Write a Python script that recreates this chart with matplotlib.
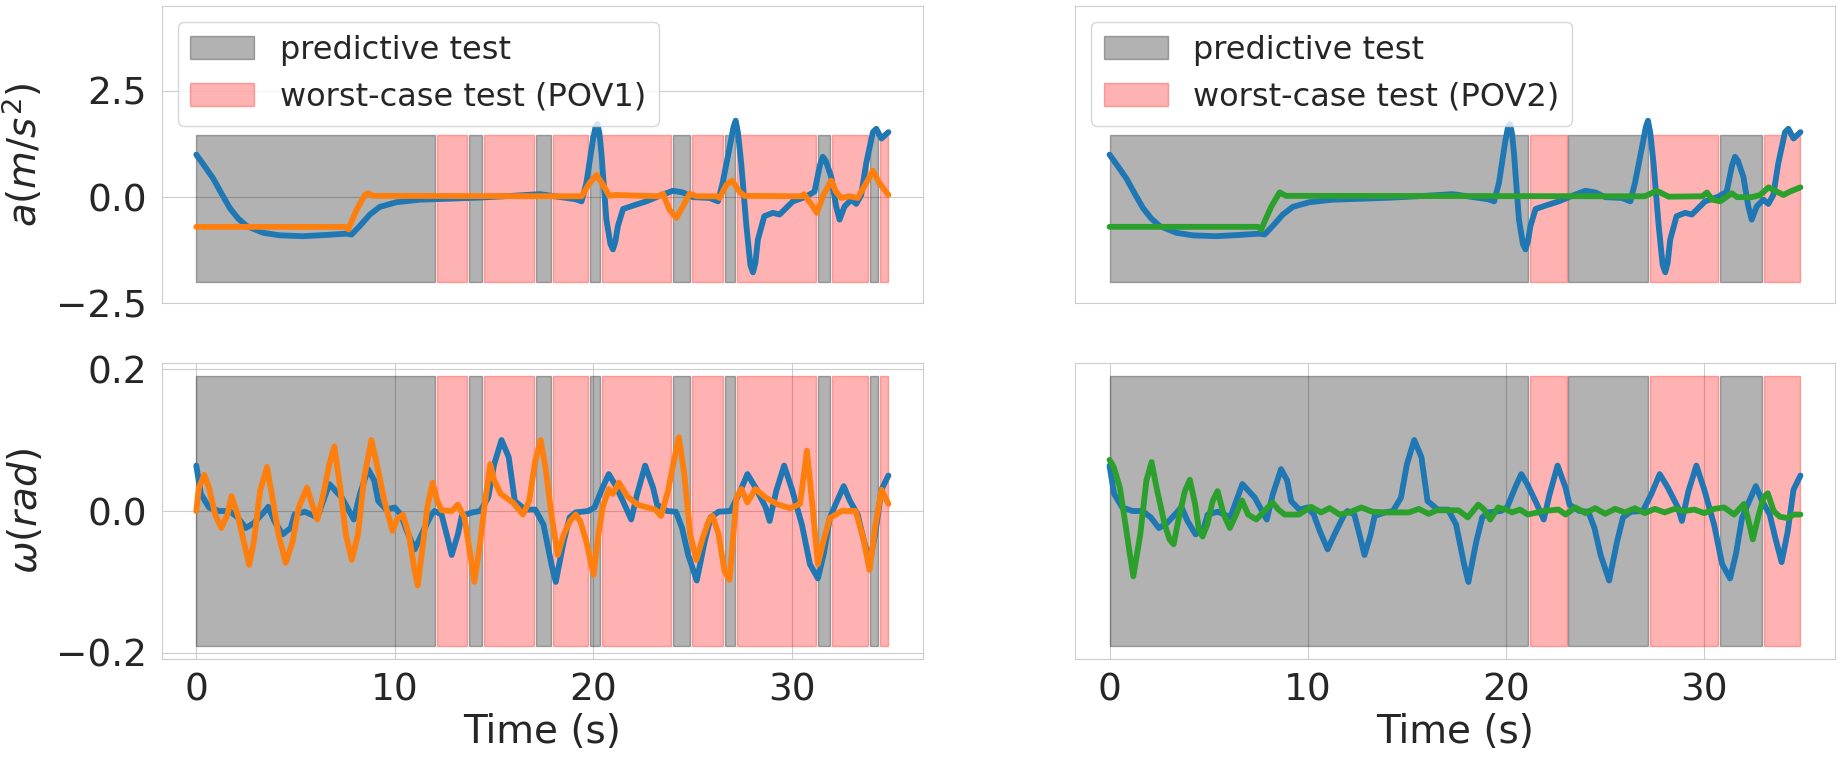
import matplotlib
matplotlib.use('Agg')
import matplotlib.pyplot as plt
import seaborn as sns
from matplotlib.patches import Patch

# ---------------- data ----------------
# acceleration, original trajectory (blue)
t_a_orig = [0, 0.4, 0.85, 1.25, 1.69, 2.1, 2.53, 3.37, 4.2, 5.38, 6.56, 7.56, 7.82, 8.23, 8.74, 9.24,
            10.08, 11.25, 12.6, 14.3, 15.9, 17.3, 18.5, 19.1, 19.4, 19.64, 19.97, 20.1, 20.2, 20.3,
            20.4, 20.65, 20.85, 20.98, 21.1, 21.23, 21.49, 21.99, 22.66, 23.33, 24.0, 24.5, 25.0,
            25.85, 26.27, 26.5, 26.86, 27.05, 27.16, 27.28, 27.44, 27.7, 27.9, 28.03, 28.15, 28.28,
            28.6, 29.03, 29.37, 30.04, 30.7, 31.13, 31.4, 31.55, 31.7, 31.97, 32.22, 32.39, 32.64,
            32.98, 33.23, 33.48, 33.73, 34.07, 34.24, 34.5, 34.85]
a_orig = [1.0, 0.74, 0.44, 0.1, -0.26, -0.5, -0.68, -0.84, -0.90, -0.92, -0.89, -0.86, -0.88, -0.68,
          -0.41, -0.23, -0.12, -0.06, -0.04, -0.01, 0.03, 0.07, -0.01, -0.05, -0.1, 0.33, 1.34,
          1.65, 1.72, 1.5, 1.03, -0.53, -1.1, -1.23, -1.05, -0.68, -0.28, -0.2, -0.1, 0.03, 0.15,
          0.11, 0.0, -0.02, -0.1, 0.33, 1.18, 1.65, 1.8, 1.5, 0.79, -0.68, -1.6, -1.77, -1.55,
          -1.0, -0.45, -0.37, -0.41, -0.1, 0.01, 0.13, 0.75, 0.95, 0.85, 0.48, -0.22, -0.53, -0.22,
          -0.06, -0.16, 0.05, 0.79, 1.53, 1.61, 1.38, 1.53]

# acceleration, POV1 (orange)
t_a_pov1 = [0, 7.48, 7.65, 8.07, 8.49, 8.65, 8.9, 19.4, 19.8, 20.15, 20.48, 20.8, 21.1, 23.3, 23.5,
            23.83, 24.17, 24.5, 24.84, 25.2, 26.2, 26.35, 26.69, 26.99, 27.36, 27.6, 30.5, 30.6,
            31.05, 31.25, 31.55, 31.97, 32.22, 32.47, 32.9, 33.3, 33.73, 34.07, 34.4, 34.85]
a_pov1 = [-0.70, -0.70, -0.76, -0.30, 0.05, 0.09, 0.03, 0.02, 0.33, 0.52, 0.29, 0.03, 0.05, 0.02,
          0.08, -0.3, -0.49, -0.22, 0.08, 0.02, 0.02, -0.02, 0.29, 0.39, 0.12, 0.03, 0.02, 0.07,
          -0.22, -0.37, 0.02, 0.39, 0.12, -0.02, 0.02, -0.02, 0.33, 0.62, 0.33, 0.05]

# acceleration, POV2 (green)
t_a_pov2 = [0, 7.48, 7.65, 8.16, 8.58, 8.9, 26.7, 27.0, 27.6, 28.2, 29.9, 30.13, 30.4, 30.8, 31.2,
            31.39, 31.65, 32.4, 32.82, 33.24, 33.57, 33.99, 34.32, 34.85]
a_pov2 = [-0.70, -0.70, -0.76, -0.22, 0.11, 0.03, 0.02, 0.02, 0.15, 0.01, 0.02, 0.11, -0.06, -0.10,
          0.03, 0.09, 0.0, 0.0, 0.05, 0.23, 0.15, 0.05, 0.13, 0.23]

# steering, original trajectory (blue)
t_w_orig = [0, 0.23, 0.64, 1.16, 1.67, 2.08, 2.49, 2.9, 3.52, 3.62, 3.93, 4.34, 4.75, 4.95, 5.47,
            6.09, 6.7, 7.32, 7.93, 8.24, 8.65, 8.96, 9.16, 9.57, 9.99, 10.3, 10.6, 11.0, 11.43,
            11.84, 12.0, 12.35, 12.65, 12.86, 13.17, 13.37, 13.89, 14.3, 14.7, 15.0, 15.37, 15.73,
            16.04, 16.56, 17.07, 17.48, 17.89, 18.1, 18.5, 18.8, 19.1, 19.74, 20.05, 20.46, 20.77,
            21.07, 21.48, 21.9, 22.2, 22.6, 23.0, 23.2, 23.7, 24.15, 24.46, 24.77, 25.2, 25.6, 25.9,
            26.3, 26.9, 27.33, 27.75, 28.16, 28.67, 28.87, 29.2, 29.6, 30.0, 30.5, 30.9, 31.3, 31.6,
            31.9, 32.2, 32.6, 32.9, 33.3, 33.6, 33.9, 34.2, 34.5, 34.85]
w_orig = [0.064, 0.024, 0.005, 0.0, 0.0, -0.009, -0.024, -0.017, 0.002, 0.006, -0.014, -0.033,
          -0.024, -0.005, -0.001, -0.009, 0.038, 0.019, -0.012, 0.024, 0.059, 0.043, 0.014, 0.002,
          0.005, -0.005, -0.028, -0.054, -0.028, -0.005, 0.0, -0.005, -0.038, -0.062, -0.033,
          -0.007, -0.002, 0.0, 0.019, 0.066, 0.1, 0.076, 0.014, 0.002, 0.002, -0.019, -0.076, -0.1,
          -0.043, -0.009, -0.002, 0.0, 0.005, 0.033, 0.052, 0.038, 0.014, -0.012, 0.024, 0.064,
          0.033, 0.009, 0.0, -0.001, -0.024, -0.062, -0.098, -0.043, -0.009, -0.001, 0.0, 0.024,
          0.052, 0.033, 0.005, -0.014, 0.028, 0.064, 0.03, -0.02, -0.075, -0.095, -0.06, -0.01,
          0.01, 0.035, 0.015, -0.005, -0.04, -0.072, -0.03, 0.03, 0.05]

# steering, POV1 (orange)
t_w_pov1 = [0, 0.13, 0.4, 0.64, 0.95, 1.26, 1.57, 1.77, 2.08, 2.39, 2.66, 2.9, 3.21, 3.56, 3.83,
            4.14, 4.5, 4.85, 5.16, 5.57, 5.78, 6.09, 6.4, 6.7, 6.95, 7.22, 7.53, 7.83, 8.14, 8.45,
            8.82, 9.16, 9.47, 9.88, 10.1, 10.4, 10.7, 11.0, 11.15, 11.43, 11.63, 11.9, 12.14, 12.35,
            12.86, 13.17, 13.5, 13.8, 14.0, 14.3, 14.5, 14.8, 15.0, 15.33, 15.94, 16.45, 16.76,
            17.07, 17.34, 17.58, 17.9, 18.2, 18.5, 18.82, 19.1, 19.33, 19.64, 20.0, 20.25, 20.46,
            20.77, 20.97, 21.28, 21.7, 22.2, 23.1, 23.4, 23.75, 24.05, 24.3, 24.57, 24.87, 25.18,
            25.5, 25.8, 26.0, 26.3, 26.6, 26.85, 27.2, 27.45, 27.75, 28.15, 28.67, 29.3, 29.9, 30.4,
            30.75, 31.05, 31.3, 31.6, 31.9, 32.5, 33.2, 33.6, 33.9, 34.2, 34.5, 34.85]
w_pov1 = [0, 0.033, 0.051, 0.033, -0.005, -0.024, -0.005, 0.021, -0.005, -0.043, -0.076, -0.043,
          0.028, 0.062, 0.019, -0.033, -0.073, -0.043, 0.005, 0.033, 0.014, -0.012, 0.024, 0.066,
          0.091, 0.038, -0.033, -0.069, -0.033, 0.047, 0.1, 0.057, 0.014, -0.028, -0.012, -0.005,
          -0.033, -0.085, -0.105, -0.043, 0.005, 0.04, 0.014, 0.001, 0.0, 0.009, -0.009, -0.062,
          -0.1, -0.043, 0.005, 0.066, 0.043, 0.024, 0.012, -0.005, 0.014, 0.071, 0.1, 0.062,
          -0.009, -0.062, -0.033, -0.014, -0.005, -0.014, -0.043, -0.09, -0.033, 0.005, 0.031,
          0.024, 0.04, 0.021, 0.009, 0.002, -0.007, 0.028, 0.071, 0.104, 0.052, -0.033, -0.069,
          -0.038, -0.014, -0.007, -0.033, -0.085, -0.097, 0.019, 0.031, 0.012, 0.031, 0.019, 0.009,
          0.004, 0.01, 0.085, 0.0, -0.075, -0.04, -0.01, 0.0, 0.0, -0.04, -0.083, -0.02, 0.03, 0.01]

# steering, POV2 (green)
t_w_pov2 = [0, 0.21, 0.52, 0.83, 1.03, 1.2, 1.55, 1.86, 2.12, 2.37, 2.78, 3.03, 3.23, 3.5, 3.8,
            4.05, 4.32, 4.52, 4.69, 4.93, 5.2, 5.45, 5.76, 6.07, 6.38, 6.68, 6.99, 7.4, 7.81, 8.22,
            8.52, 8.83, 9.55, 10.16, 10.67, 11.1, 11.6, 12.1, 12.7, 13.25, 13.9, 15.1, 15.6, 16.1,
            16.5, 17.1, 17.6, 18.07, 18.6, 18.9, 19.2, 19.6, 20.0, 20.3, 20.7, 21.1, 21.9, 22.65,
            23.0, 23.5, 24.0, 24.5, 25.0, 25.5, 26.0, 26.5, 27.0, 27.5, 28.0, 28.5, 29.0, 29.5,
            30.0, 30.5, 31.0, 31.5, 32.0, 32.2, 32.45, 32.7, 33.0, 33.2, 33.5, 33.8, 34.2, 34.5,
            34.85]
w_pov2 = [0.072, 0.062, 0.033, -0.024, -0.062, -0.092, -0.033, 0.043, 0.069, 0.033, -0.019, -0.04,
          -0.047, -0.009, 0.028, 0.044, 0.009, -0.028, -0.036, -0.019, 0.014, 0.028, -0.005,
          -0.024, -0.005, 0.015, -0.005, -0.012, 0.0, 0.012, 0.002, -0.005, -0.005, 0.006, -0.002,
          0.004, -0.005, -0.002, 0.005, -0.001, -0.002, -0.002, 0.003, -0.004, 0.001, 0.001, 0.001,
          -0.009, 0.009, 0.002, -0.012, 0.005, 0.002, -0.002, 0.002, -0.005, 0.0, 0.002, -0.005,
          0.005, -0.003, 0.004, -0.004, 0.003, -0.002, 0.004, -0.003, 0.003, -0.002, 0.003, 0.0,
          0.002, -0.003, 0.003, 0.005, -0.005, 0.01, -0.01, -0.04, -0.01, 0.02, 0.025, 0.0, -0.008,
          -0.01, -0.005, -0.005]

# test segments (start, end) in seconds
pov1_predictive = [(0, 12.0), (13.75, 14.4), (17.1, 17.85), (19.8, 20.35), (24.0, 24.85),
                   (26.6, 27.15), (31.3, 31.9), (33.9, 34.35)]
pov1_worst = [(12.1, 13.65), (14.5, 17.0), (17.95, 19.7), (20.45, 23.9), (24.95, 26.5),
              (27.25, 31.2), (32.0, 33.8), (34.45, 34.85)]
pov2_predictive = [(0, 21.1), (23.15, 27.15), (30.8, 32.9)]
pov2_worst = [(21.2, 23.05), (27.25, 30.7), (33.0, 34.85)]

band_a = (-2.0, 1.47)
band_w = (-0.19, 0.19)

legend_labels_pov1 = ['predictive test', 'worst-case test (POV1)']
legend_labels_pov2 = ['predictive test', 'worst-case test (POV2)']
a_ticks = [-2.5, 0.0, 2.5]
w_ticks = [-0.2, 0.0, 0.2]
x_ticks = [0, 10, 20, 30]

# ---------------- style ----------------
sns.set_style('whitegrid')
plt.rcParams['font.family'] = ['DejaVu Sans']
plt.rcParams['mathtext.fontset'] = 'dejavusans'

TICK_FS = 27
LABEL_FS = 28
LEG_FS = 23
LW = 4.2

fig = plt.figure(figsize=(18.42, 7.57), dpi=100)
W, H = 1842.0, 757.0


def rect(x0, x1, ytop, ybot):
    return [x0 / W, 1 - ybot / H, (x1 - x0) / W, (ybot - ytop) / H]


ax_tl = fig.add_axes(rect(161.7, 923, 6, 303.3))
ax_tr = fig.add_axes(rect(1075, 1835, 6, 303.3))
ax_bl = fig.add_axes(rect(161.7, 923, 362.7, 659.3))
ax_br = fig.add_axes(rect(1075, 1835, 362.7, 659.3))


def spans(ax, pred, worst, band):
    lo, hi = band
    for s, e in pred:
        ax.fill_between([s, e], [lo, lo], [hi, hi], color='k', alpha=0.3, linewidth=1)
    for s, e in worst:
        ax.fill_between([s, e], [lo, lo], [hi, hi], color='r', alpha=0.3, linewidth=1)


# top-left
spans(ax_tl, pov1_predictive, pov1_worst, band_a)
ax_tl.plot(t_a_orig, a_orig, color='C0', lw=LW)
ax_tl.plot(t_a_pov1, a_pov1, color='C1', lw=LW)
# top-right
spans(ax_tr, pov2_predictive, pov2_worst, band_a)
ax_tr.plot(t_a_orig, a_orig, color='C0', lw=LW)
ax_tr.plot(t_a_pov2, a_pov2, color='C2', lw=LW)
# bottom-left
spans(ax_bl, pov1_predictive, pov1_worst, band_w)
ax_bl.plot(t_w_orig, w_orig, color='C0', lw=LW)
ax_bl.plot(t_w_pov1, w_pov1, color='C1', lw=LW)
# bottom-right
spans(ax_br, pov2_predictive, pov2_worst, band_w)
ax_br.plot(t_w_orig, w_orig, color='C0', lw=LW)
ax_br.plot(t_w_pov2, w_pov2, color='C2', lw=LW)

for ax in (ax_tl, ax_tr):
    ax.set_ylim(-2.5, 4.5)
    ax.set_xticks([])
for ax in (ax_bl, ax_br):
    ax.set_xticks(x_ticks)
    ax.set_xlabel('Time (s)', fontsize=LABEL_FS, labelpad=3)

ax_tl.set_yticks(a_ticks)
ax_bl.set_yticks(w_ticks)
ax_tr.set_yticks([])
ax_br.set_yticks([])
ax_tr.set_ylim(ax_tl.get_ylim())
ax_br.set_ylim(ax_bl.get_ylim())

ax_tl.set_ylabel(r'$a(m/s^2)$', fontsize=LABEL_FS, labelpad=8)
ax_bl.set_ylabel(r'$\omega(rad)$', fontsize=LABEL_FS, labelpad=8)

for ax in (ax_tl, ax_tr, ax_bl, ax_br):
    ax.tick_params(axis='both', labelsize=TICK_FS)
    ax.tick_params(axis='y', pad=7)
    ax.tick_params(axis='x', pad=6)

pred_handle = Patch(facecolor='k', edgecolor='k', alpha=0.3, linewidth=1)
worst_handle = Patch(facecolor='r', edgecolor='r', alpha=0.3, linewidth=1)
ax_tl.legend([pred_handle, worst_handle], legend_labels_pov1, loc='upper left', fontsize=LEG_FS)
ax_tr.legend([pred_handle, worst_handle], legend_labels_pov2, loc='upper left', fontsize=LEG_FS)

fig.savefig('out.png', dpi=100)
